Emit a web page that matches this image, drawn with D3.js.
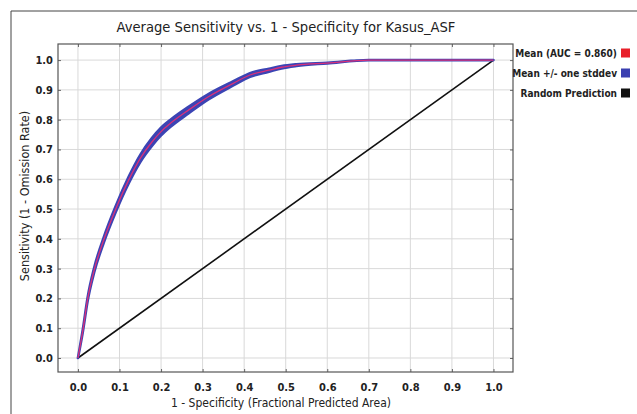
<!DOCTYPE html>
<html>
<head>
<meta charset="utf-8">
<script src="https://cdn.jsdelivr.net/npm/d3@7"></script>
<style>
  body { margin: 0; background: #fff; }
  svg text { font-family: "DejaVu Sans Condensed", "Liberation Sans Narrow", sans-serif; fill: #222; }
</style>
</head>
<body>
<svg id="chart" width="637" height="414"></svg>
<script>
// ROC data
const fpr  = [0, 0.012, 0.023, 0.039, 0.062, 0.09, 0.122, 0.15, 0.178, 0.2, 0.222, 0.266, 0.314, 0.374, 0.414, 0.46, 0.49, 0.526, 0.6, 0.7, 0.8, 0.9, 1.0];
const sens = [0, 0.094, 0.195, 0.295, 0.396, 0.497, 0.597, 0.67, 0.725, 0.76, 0.787, 0.832, 0.877, 0.922, 0.95, 0.966, 0.976, 0.983, 0.99, 1.0, 1.0, 1.0, 1.0];
const stddev = [0, 0.004, 0.006, 0.008, 0.009, 0.01, 0.011, 0.012, 0.013, 0.013, 0.012, 0.011, 0.009, 0.007, 0.006, 0.005, 0.004, 0.003, 0.001, 0, 0, 0, 0];
const tickValues = [0, 0.1, 0.2, 0.3, 0.4, 0.5, 0.6, 0.7, 0.8, 0.9, 1.0];
const legendItems = ["Mean (AUC = 0.860)", "Mean +/- one stddev", "Random Prediction"];
const legendColors = ["#e8202a", "#3a3fb0", "#111111"];

const svg = d3.select('#chart');

// outer frame of the image
svg.append('path')
    .attr('d', 'M11,414 L11,11 L637,11')
    .attr('fill', 'none')
    .attr('stroke', '#444')
    .attr('stroke-width', 1);

const plotL = 58, plotR = 513, plotT = 44, plotB = 372;

const x = d3.scaleLinear().domain([-0.048, 1.047]).range([plotL, plotR]);
const y = d3.scaleLinear().domain([-0.047, 1.054]).range([plotB, plotT]);

// grid
const grid = svg.append('g');
grid.selectAll('.gx').data(tickValues).enter().append('line')
    .attr('x1', d => x(d)).attr('x2', d => x(d))
    .attr('y1', plotT).attr('y2', plotB)
    .attr('stroke', '#d9d9d9');
grid.selectAll('.gy').data(tickValues).enter().append('line')
    .attr('y1', d => y(d)).attr('y2', d => y(d))
    .attr('x1', plotL).attr('x2', plotR)
    .attr('stroke', '#d9d9d9');

// axes (ticks inward on all sides)
const fmt = d3.format('.1f');
svg.append('g').attr('transform', `translate(0,${plotB})`)
    .call(d3.axisBottom(x).tickValues(tickValues).tickFormat(fmt).tickSizeInner(-3).tickSizeOuter(0).tickPadding(11))
    .call(g => g.select('.domain').remove());
svg.append('g').attr('transform', `translate(0,${plotT})`)
    .call(d3.axisTop(x).tickValues(tickValues).tickFormat('').tickSizeInner(-3).tickSizeOuter(0))
    .call(g => g.select('.domain').remove());
svg.append('g').attr('transform', `translate(${plotL},0)`)
    .call(d3.axisLeft(y).tickValues(tickValues).tickFormat(fmt).tickSizeInner(-3).tickSizeOuter(0).tickPadding(5))
    .call(g => g.select('.domain').remove());
svg.append('g').attr('transform', `translate(${plotR},0)`)
    .call(d3.axisRight(y).tickValues(tickValues).tickFormat('').tickSizeInner(-3).tickSizeOuter(0))
    .call(g => g.select('.domain').remove());

svg.selectAll('.tick line').attr('stroke', '#666');
svg.selectAll('.tick text')
    .style('font-size', '11px')
    .style('font-weight', 'bold')
    .attr('fill', '#222');

// plot frame
svg.append('rect')
    .attr('x', plotL).attr('y', plotT)
    .attr('width', plotR - plotL).attr('height', plotB - plotT)
    .attr('fill', 'none').attr('stroke', '#555').attr('stroke-width', 1.2);

const data = fpr.map((f, i) => ({ f: f, s: sens[i], sd: stddev[i] }));

// random prediction
svg.append('line')
    .attr('x1', x(0)).attr('y1', y(0))
    .attr('x2', x(1)).attr('y2', y(1))
    .attr('stroke', '#111').attr('stroke-width', 1.6);

// stddev band
const band = d3.area()
    .x(d => x(d.f))
    .y0(d => y(d.s - d.sd))
    .y1(d => y(d.s + d.sd))
    .curve(d3.curveMonotoneX);
svg.append('path')
    .datum(data)
    .attr('d', band)
    .attr('fill', '#3b44b4')
    .attr('stroke', '#3b44b4')
    .attr('stroke-width', 2.6)
    .attr('stroke-linejoin', 'round');

// mean line
const line = d3.line()
    .x(d => x(d.f))
    .y(d => y(d.s))
    .curve(d3.curveMonotoneX);
svg.append('path')
    .datum(data)
    .attr('d', line)
    .attr('fill', 'none')
    .attr('stroke', '#d8307a')
    .attr('stroke-width', 1.3);

// title
svg.append('text')
    .attr('x', 286).attr('y', 32)
    .attr('text-anchor', 'middle')
    .style('font-size', '14.6px')
    .text('Average Sensitivity vs. 1 - Specificity for Kasus_ASF');

// axis titles
svg.append('text')
    .attr('x', 281).attr('y', 407)
    .attr('text-anchor', 'middle')
    .style('font-size', '12px')
    .text('1 - Specificity (Fractional Predicted Area)');
svg.append('text')
    .attr('transform', 'translate(29,196) rotate(-90)')
    .attr('text-anchor', 'middle')
    .style('font-size', '12.5px')
    .text('Sensitivity (1 - Omission Rate)');

// legend
const legend = svg.append('g');
const row = legend.selectAll('g').data(legendItems).enter().append('g')
    .attr('transform', (d, i) => `translate(0,${53 + i * 20})`);
row.append('text')
    .attr('x', 617).attr('y', 4)
    .attr('text-anchor', 'end')
    .style('font-size', '10px')
    .style('font-weight', 'bold')
    .text(d => d);
row.append('rect')
    .attr('x', 621).attr('y', -4.5)
    .attr('width', 9).attr('height', 9)
    .attr('fill', (d, i) => legendColors[i]);
</script>
</body>
</html>
